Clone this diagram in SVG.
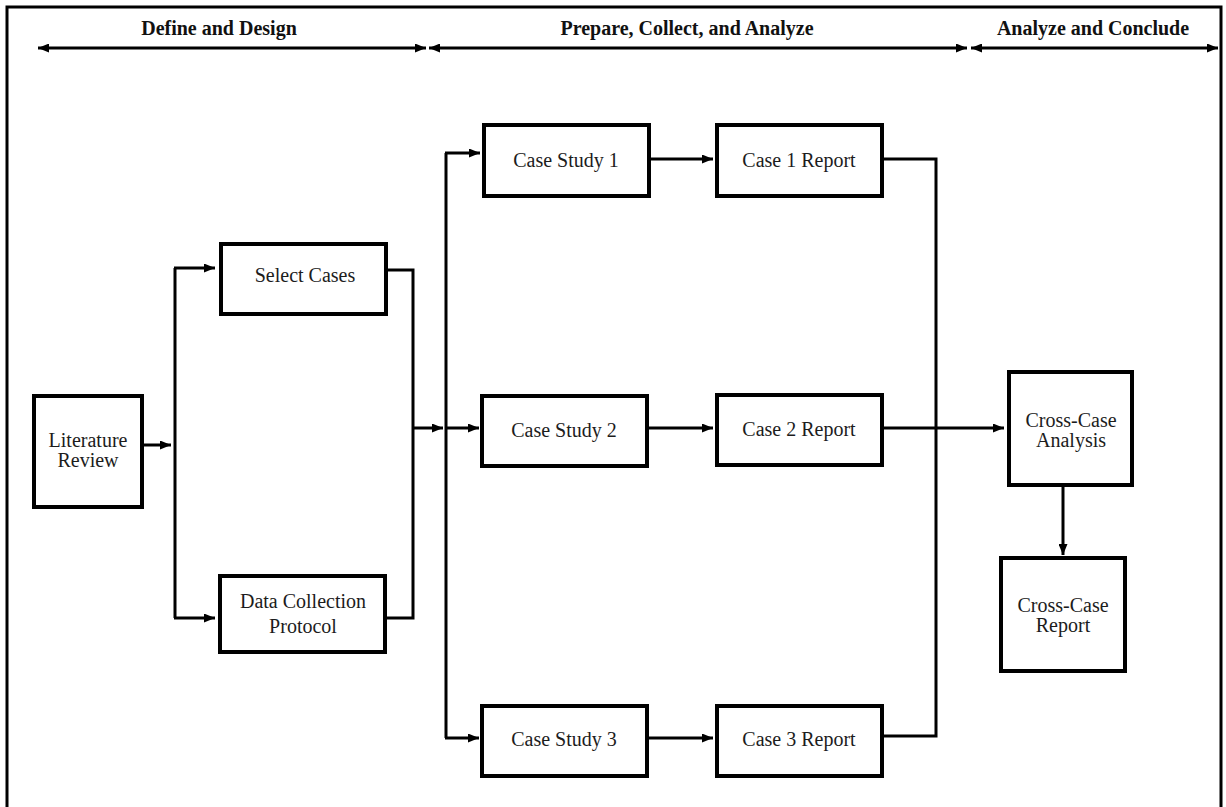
<svg xmlns="http://www.w3.org/2000/svg" width="1226" height="807" viewBox="0 0 1226 807">
<defs>
<marker id="ah" markerUnits="userSpaceOnUse" markerWidth="11" markerHeight="9" refX="11" refY="4.5" orient="auto-start-reverse">
<path d="M0,0 L11,4.5 L0,9 z" fill="#000"/>
</marker>
<style>
.box{fill:#fff;stroke:#000;stroke-width:4}
.t{font-family:"Liberation Serif","Times New Roman",serif;font-size:20px;fill:#1c1c1c;text-anchor:middle}
.h{font-family:"Liberation Serif","Times New Roman",serif;font-size:20px;font-weight:bold;fill:#111;text-anchor:middle}
.c{fill:none;stroke:#000;stroke-width:3}
.a{fill:none;stroke:#000;stroke-width:3;marker-end:url(#ah)}
.d{fill:none;stroke:#000;stroke-width:3;marker-start:url(#ah);marker-end:url(#ah)}
</style>
</defs>
<rect width="1226" height="807" fill="#fff"/>
<path d="M7,807 V7 H1221 V807" fill="none" stroke="#000" stroke-width="3"/>
<g id="phases">
<text class="h" x="219" y="35">Define and Design</text>
<text class="h" x="687" y="35">Prepare, Collect, and Analyze</text>
<text class="h" x="1093" y="35">Analyze and Conclude</text>
<line class="d" x1="38" y1="48" x2="426" y2="48"/>
<line class="d" x1="429" y1="48" x2="967" y2="48"/>
<line class="d" x1="971" y1="48" x2="1218" y2="48"/>
</g>
<g id="connectors">
<line class="a" x1="144" y1="445" x2="171" y2="445"/>
<path class="c" d="M175,268 V618"/>
<line class="a" x1="174" y1="268" x2="215" y2="268"/>
<line class="a" x1="174" y1="618" x2="215" y2="618"/>
<path class="c" d="M387,270 H413 V618 H386"/>
<line class="a" x1="413" y1="428" x2="443" y2="428"/>
<path class="c" d="M446,153 V738"/>
<line class="a" x1="445" y1="153" x2="480" y2="153"/>
<line class="a" x1="445" y1="428" x2="479" y2="428"/>
<line class="a" x1="445" y1="738" x2="479" y2="738"/>
<line class="a" x1="650" y1="159" x2="713" y2="159"/>
<line class="a" x1="648" y1="428" x2="713" y2="428"/>
<line class="a" x1="648" y1="738" x2="713" y2="738"/>
<path class="c" d="M883,159 H936 V736 H883"/>
<line class="a" x1="883" y1="428" x2="1004" y2="428"/>
<line class="a" x1="1063" y1="486" x2="1063" y2="555"/>
</g>
<g id="literature-review">
<rect class="box" x="34" y="396" width="108" height="111"/>
<text class="t" x="88" y="447">Literature</text>
<text class="t" x="88" y="467">Review</text>
</g>
<g id="select-cases">
<rect class="box" x="221" y="244" width="165" height="70"/>
<text class="t" x="305" y="282">Select Cases</text>
</g>
<g id="data-collection-protocol">
<rect class="box" x="220" y="576" width="165" height="76"/>
<text class="t" x="303" y="608">Data Collection</text>
<text class="t" x="303" y="633">Protocol</text>
</g>
<g id="case-study-1">
<rect class="box" x="484" y="125" width="165" height="71"/>
<text class="t" x="566" y="167">Case Study 1</text>
</g>
<g id="case-1-report">
<rect class="box" x="717" y="125" width="165" height="71"/>
<text class="t" x="799" y="167">Case 1 Report</text>
</g>
<g id="case-study-2">
<rect class="box" x="482" y="396" width="165" height="70"/>
<text class="t" x="564" y="437">Case Study 2</text>
</g>
<g id="case-2-report">
<rect class="box" x="717" y="395" width="165" height="70"/>
<text class="t" x="799" y="436">Case 2 Report</text>
</g>
<g id="case-study-3">
<rect class="box" x="482" y="706" width="165" height="70"/>
<text class="t" x="564" y="746">Case Study 3</text>
</g>
<g id="case-3-report">
<rect class="box" x="717" y="706" width="165" height="70"/>
<text class="t" x="799" y="746">Case 3 Report</text>
</g>
<g id="cross-case-analysis">
<rect class="box" x="1009" y="372" width="123" height="113"/>
<text class="t" x="1071" y="427">Cross-Case</text>
<text class="t" x="1071" y="447">Analysis</text>
</g>
<g id="cross-case-report">
<rect class="box" x="1001" y="558" width="124" height="113"/>
<text class="t" x="1063" y="612">Cross-Case</text>
<text class="t" x="1063" y="632">Report</text>
</g>
</svg>
